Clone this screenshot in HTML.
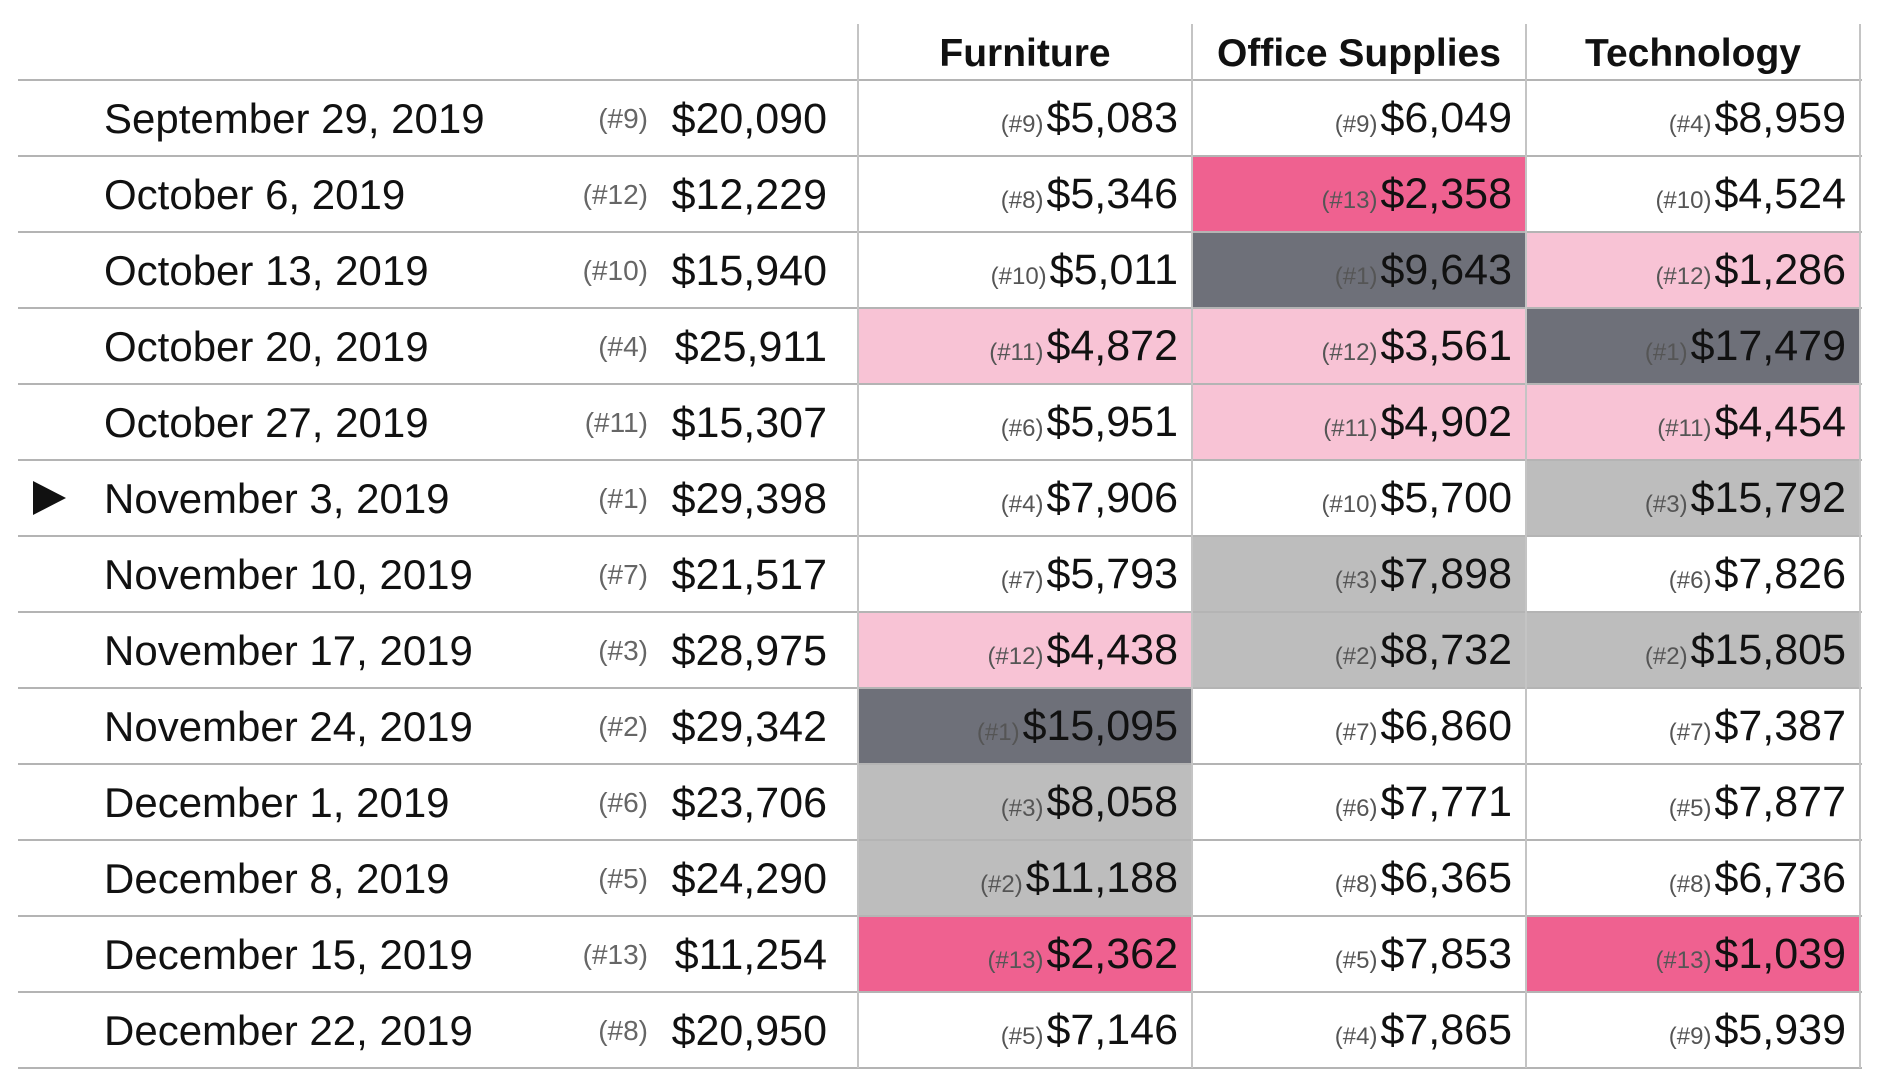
<!DOCTYPE html>
<html><head><meta charset="utf-8">
<style>
body{margin:0;width:1886px;height:1076px;background:#fff;position:relative;overflow:hidden;font-family:"Liberation Sans Narrow","Liberation Sans",sans-serif;}
.abs{position:absolute;}
.hl{position:absolute;height:2px;background:#b4b4b4;}
.vl{position:absolute;width:2px;background:#c4c4c4;}
.t{position:absolute;white-space:nowrap;color:#111;}
.hdr{font-weight:bold;font-size:39px;text-align:center;top:32px;}
</style></head><body>
<div id="tbl"></div>
<script>
const dates=["September 29, 2019","October 6, 2019","October 13, 2019","October 20, 2019","October 27, 2019","November 3, 2019","November 10, 2019","November 17, 2019","November 24, 2019","December 1, 2019","December 8, 2019","December 15, 2019","December 22, 2019"];
const totals=[20090,12229,15940,25911,15307,29398,21517,28975,29342,23706,24290,11254,20950];
const totalRanks=[9,12,10,4,11,1,7,3,2,6,5,13,8];
const categories=["Furniture","Office Supplies","Technology"];
const furniture=[5083,5346,5011,4872,5951,7906,5793,4438,15095,8058,11188,2362,7146];
const furnitureRanks=[9,8,10,11,6,4,7,12,1,3,2,13,5];
const office=[6049,2358,9643,3561,4902,5700,7898,8732,6860,7771,6365,7853,7865];
const officeRanks=[9,13,1,12,11,10,3,2,7,6,8,5,4];
const tech=[8959,4524,1286,17479,4454,15792,7826,15805,7387,7877,6736,1039,5939];
const techRanks=[4,10,12,1,11,3,6,2,7,5,8,13,9];
const selectedIndex=5;

const T=document.getElementById('tbl');
const top0=80,rowH=76,left=18,colX=[858,1192,1526,1860];
const series=[furniture,office,tech],ranks=[furnitureRanks,officeRanks,techRanks];
function fmt(v){return '$'+v.toLocaleString('en-US');}
function fill(r){if(r===13)return '#ef6190';if(r>=11)return '#f8c3d5';if(r===1)return '#6e7079';if(r<=3)return '#bdbdbd';return null;}
function el(cls,css,txt){const d=document.createElement('div');d.className=cls;d.style.cssText=css;if(txt!==undefined)d.textContent=txt;T.appendChild(d);return d;}

for(let c=0;c<3;c++){for(let i=0;i<dates.length;i++){const f=fill(ranks[c][i]);if(f){
const d=el('abs',`left:${colX[c]}px;top:${top0+i*rowH}px;width:${colX[c+1]-colX[c]}px;height:${rowH}px;background:${f}`);

}}}
for(let c=0;c<3;c++){
const h=el('t hdr',`left:${colX[c]}px;width:${colX[c+1]-colX[c]}px;`,categories[c]);

}
for(let i=0;i<=dates.length;i++){
const l=el('hl',`left:${left}px;top:${top0+i*rowH-1}px;width:${colX[3]-left+2}px;`);

}
for(let c=0;c<4;c++){
const l=el('vl',`left:${colX[c]-1}px;top:24px;height:${top0+dates.length*rowH-24}px;`);

}
for(let i=0;i<dates.length;i++){
const y=top0+i*rowH;
const d=el('t',`left:104px;top:${y+15}px;font-size:42px;`,dates[i]);


const r=el('t',`right:${1886-648}px;top:${y+23}px;font-size:28px;color:#666`,'(#'+totalRanks[i]+')');


const v=el('t',`right:${1886-827}px;top:${y+15}px;font-size:43px;`,fmt(totals[i]));


for(let c=0;c<3;c++){
const cell=el('t',`right:${1886-colX[c+1]+14}px;top:${y+14}px;font-size:43px;`,'');


const s=document.createElement('span');s.style.cssText='font-size:24px;color:#555;margin-right:3px';s.textContent='(#'+ranks[c][i]+')';


cell.appendChild(s);cell.appendChild(document.createTextNode(fmt(series[c][i])));}
}
const tri=el('abs',`left:33px;top:${top0+selectedIndex*rowH+21}px;width:0;height:0;border-top:17px solid transparent;border-bottom:17px solid transparent;border-left:33px solid #111`);


</script>
</body></html>
